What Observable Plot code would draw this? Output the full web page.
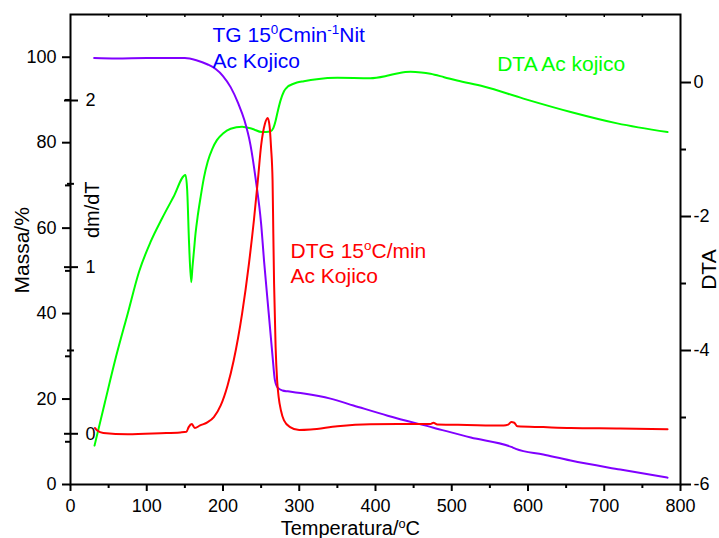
<!DOCTYPE html>
<html>
<head>
<meta charset="utf-8">
<script src="https://cdn.jsdelivr.net/npm/d3@7"></script>
<script src="https://cdn.jsdelivr.net/npm/@observablehq/plot@0.6"></script>
<style>
  html, body { margin: 0; padding: 0; background: #fff; }
</style>
</head>
<body>
<div id="chart"></div>
<script>
// ---------- Data ----------
// TG curve (mass %) vs temperature (°C)
const tgTemp  = [31, 60, 100, 150, 165, 180, 190, 200, 210, 220, 228, 236, 243, 250, 254, 260, 265, 268, 272, 278, 285, 306, 341, 371, 416, 476, 525, 578, 584, 620, 656, 721, 783];
const tgMassa = [99.8, 99.7, 99.8, 99.8, 99.3, 98.3, 97.3, 95.6, 93.0, 89.2, 85.3, 79.5, 71.3, 61.0, 52.0, 40.0, 30.0, 24.5, 22.6, 22.0, 21.8, 21.3, 20.1, 18.5, 16.1, 13.3, 11.0, 8.8, 8.35, 7.0, 5.6, 3.5, 1.6];

// DTG curve (dm/dT) vs temperature
const dtgTemp  = [32, 35, 43, 75, 118, 144, 152, 155, 159, 163, 170, 180, 188, 197, 206, 214, 225, 234, 240.5, 245.7, 250, 255, 258.5, 261, 263, 265, 266, 267, 269, 271, 273, 276, 280, 288, 300, 315, 350, 393, 430, 472, 476, 481, 520, 568, 574, 578, 582, 586, 620, 656, 721, 783];
const dtgValue = [0.035, 0.02, 0.005, -0.003, 0.003, 0.008, 0.012, 0.04, 0.058, 0.035, 0.05, 0.07, 0.1, 0.17, 0.29, 0.44, 0.72, 1.02, 1.28, 1.52, 1.73, 1.86, 1.895, 1.85, 1.72, 1.52, 1.2, 0.9, 0.52, 0.32, 0.22, 0.14, 0.08, 0.04, 0.022, 0.025, 0.045, 0.057, 0.058, 0.058, 0.066, 0.056, 0.053, 0.05, 0.055, 0.07, 0.066, 0.045, 0.04, 0.035, 0.032, 0.027];

// DTA curve vs temperature
const dtaTemp  = [31.5, 45, 60, 75, 90, 105, 120, 135, 150.8, 153, 155.5, 158.3, 160, 162, 164, 167, 170.5, 175, 180, 186, 192, 200, 210, 225, 238, 251, 262, 266, 269, 272, 275.4, 280, 285, 290, 297, 306, 323, 350, 393, 415, 430, 446, 460, 472, 490, 507, 542, 594, 656, 717, 783];
const dtaValue = [-5.42, -4.78, -4.08, -3.45, -2.82, -2.38, -2.03, -1.71, -1.38, -1.6, -2.4, -2.98, -2.75, -2.5, -2.25, -1.98, -1.72, -1.42, -1.18, -0.99, -0.86, -0.76, -0.69, -0.66, -0.69, -0.74, -0.73, -0.68, -0.57, -0.42, -0.27, -0.13, -0.06, -0.03, 0.0, 0.02, 0.05, 0.07, 0.065, 0.1, 0.14, 0.16, 0.15, 0.13, 0.08, 0.03, -0.06, -0.24, -0.44, -0.61, -0.74];

// Tick values
const xMajorTicks   = [0, 100, 200, 300, 400, 500, 600, 700, 800];
const xMinorTicks   = [50, 150, 250, 350, 450, 550, 650, 750];
const xTopTicks     = [50, 100, 150, 200, 250, 300, 350, 400, 450, 500, 550, 600, 650, 700, 750];
const massaMajor    = [0, 20, 40, 60, 80, 100];
const massaMinor    = [10, 30, 50, 70, 90];
const dtaMajor      = [0, -2, -4, -6];
const dtaMinor      = [-1, -3, -5];
const dmMajor       = [0, 1, 2];
const dmMinor       = [0.5, 1.5];

// ---------- Secondary-axis mappings onto the Massa (left) scale ----------
const dtaY = v => 94.08 + 15.68 * v;   // DTA units -> Massa units
const dmY  = v => 11.87 + 39.0 * v;    // dm/dT units -> Massa units

const tgRows  = tgTemp.map((t, i) => ({t, v: tgMassa[i]}));
const dtgRows = dtgTemp.map((t, i) => ({t, v: dtgValue[i]}));
const dtaRows = dtaTemp.map((t, i) => ({t, v: dtaValue[i]}));

const C_TG = "#8000ff", C_TGTXT = "#0000ff", C_DTG = "#ff0000", C_DTA = "#00ff00";
const INK = "#000";

const svg = Plot.plot({
  width: 719,
  height: 538,
  marginLeft: 70,
  marginRight: 39,
  marginTop: 14,
  marginBottom: 54,
  style: {fontFamily: "'Liberation Sans', Arial, Helvetica, sans-serif", background: "#fff", color: INK},
  x: {domain: [0, 800]},
  y: {domain: [0, 110]},
  marks: [
    // curves
    Plot.line(dtaRows, {x: "t", y: d => dtaY(d.v), stroke: C_DTA, strokeWidth: 2, curve: "monotone-x"}),
    Plot.line(tgRows, {x: "t", y: "v", stroke: C_TG, strokeWidth: 2, curve: "monotone-x"}),
    Plot.line(dtgRows, {x: "t", y: d => dmY(d.v), stroke: C_DTG, strokeWidth: 2, curve: "monotone-x"}),

    // frame
    Plot.frame({stroke: INK, strokeWidth: 2}),

    // bottom axis
    Plot.axisX(xMajorTicks, {anchor: "bottom", tickSize: 7, tickPadding: 8, fontSize: 18, strokeWidth: 2, label: null, tickFormat: d => String(d), fill: INK}),
    Plot.axisX(xMinorTicks, {anchor: "bottom", tickSize: 4, strokeWidth: 2, label: null, tickFormat: () => ""}),
    // top inward ticks
    Plot.ruleX(xTopTicks, {x: d => d, y1: 110, y2: 110 - 3 / 4.27, stroke: INK, strokeWidth: 1.5}),

    // left Massa axis
    Plot.axisY(massaMajor, {anchor: "left", tickSize: 8, tickPadding: 6, fontSize: 18, strokeWidth: 2, label: null, tickFormat: d => String(d), fill: INK}),
    Plot.axisY(massaMinor, {anchor: "left", tickSize: 5, strokeWidth: 2, label: null, tickFormat: () => ""}),

    // right DTA axis
    Plot.axisY(dtaMajor.map(dtaY), {anchor: "right", tickSize: 10, tickPadding: 3, fontSize: 18, strokeWidth: 2, label: null,
      tickFormat: v => String(Math.round((v - 94.08) / 15.68)), fill: INK}),
    Plot.axisY(dtaMinor.map(dtaY), {anchor: "right", tickSize: 5, strokeWidth: 2, label: null, tickFormat: () => ""}),

    // inner dm/dT axis
    Plot.ruleY(dmMajor, {y: dmY, x1: -7.9, x2: 10.5, stroke: INK, strokeWidth: 2}),
    Plot.ruleY(dmMinor, {y: dmY, x1: -3.9, x2: 5.2, stroke: INK, strokeWidth: 2}),
    Plot.text(dmMajor, {x: 26.2, y: dmY, text: d => String(d), fontSize: 18, textAnchor: "middle", lineAnchor: "middle", fill: INK}),

    // axis titles
    Plot.text(["Massa/%"], {x: -63, y: 54.8, rotate: -90, fontSize: 21, lineAnchor: "middle", fill: INK}),
    Plot.text(["dm/dT"], {x: 28.9, y: 64.3, rotate: -90, fontSize: 20, lineAnchor: "middle", fill: INK}),
    Plot.text(["DTA"], {x: 838, y: 50.3, rotate: -90, fontSize: 21, lineAnchor: "middle", fill: INK}),
    Plot.text(["Temperatura/^{o}C"], {x: 367, y: -10.3, fontSize: 20, lineAnchor: "middle", fill: INK}),

    // annotations
    Plot.text(["TG 15^{0}Cmin^{-1}Nit"], {x: 186.2, y: 105.2, fontSize: 21, textAnchor: "start", lineAnchor: "middle", fill: C_TGTXT}),
    Plot.text(["Ac Kojico"], {x: 186.2, y: 99.1, fontSize: 21, textAnchor: "start", lineAnchor: "middle", fill: C_TGTXT}),
    Plot.text(["DTG 15^{o}C/min"], {x: 288.5, y: 54.6, fontSize: 21, textAnchor: "start", lineAnchor: "middle", fill: C_DTG}),
    Plot.text(["Ac Kojico"], {x: 288.5, y: 48.7, fontSize: 21, textAnchor: "start", lineAnchor: "middle", fill: C_DTG}),
    Plot.text(["DTA Ac kojico"], {x: 559.6, y: 98.3, fontSize: 21, textAnchor: "start", lineAnchor: "middle", fill: C_DTA})
  ]
});

document.getElementById("chart").appendChild(svg);

// superscript handling: "^{...}" -> raised, smaller tspan
const NS = "http://www.w3.org/2000/svg";
svg.querySelectorAll("text").forEach(el => {
  const s = el.textContent;
  if (!s.includes("^{")) return;
  const fs = parseFloat(getComputedStyle(el).fontSize) || 21;
  const parts = s.split(/\^\{([^}]*)\}/);
  while (el.firstChild) el.removeChild(el.firstChild);
  const shift = 0.36 * fs;
  let raised = false;
  parts.forEach((p, i) => {
    if (p === "") return;
    const t = document.createElementNS(NS, "tspan");
    t.textContent = p;
    if (i % 2 === 1) {
      t.setAttribute("font-size", (0.64 * fs).toFixed(1));
      t.setAttribute("dy", (-shift).toFixed(1));
      raised = true;
    } else if (raised) {
      t.setAttribute("dy", shift.toFixed(1));
      raised = false;
    }
    el.appendChild(t);
  });
});
</script>
</body>
</html>
